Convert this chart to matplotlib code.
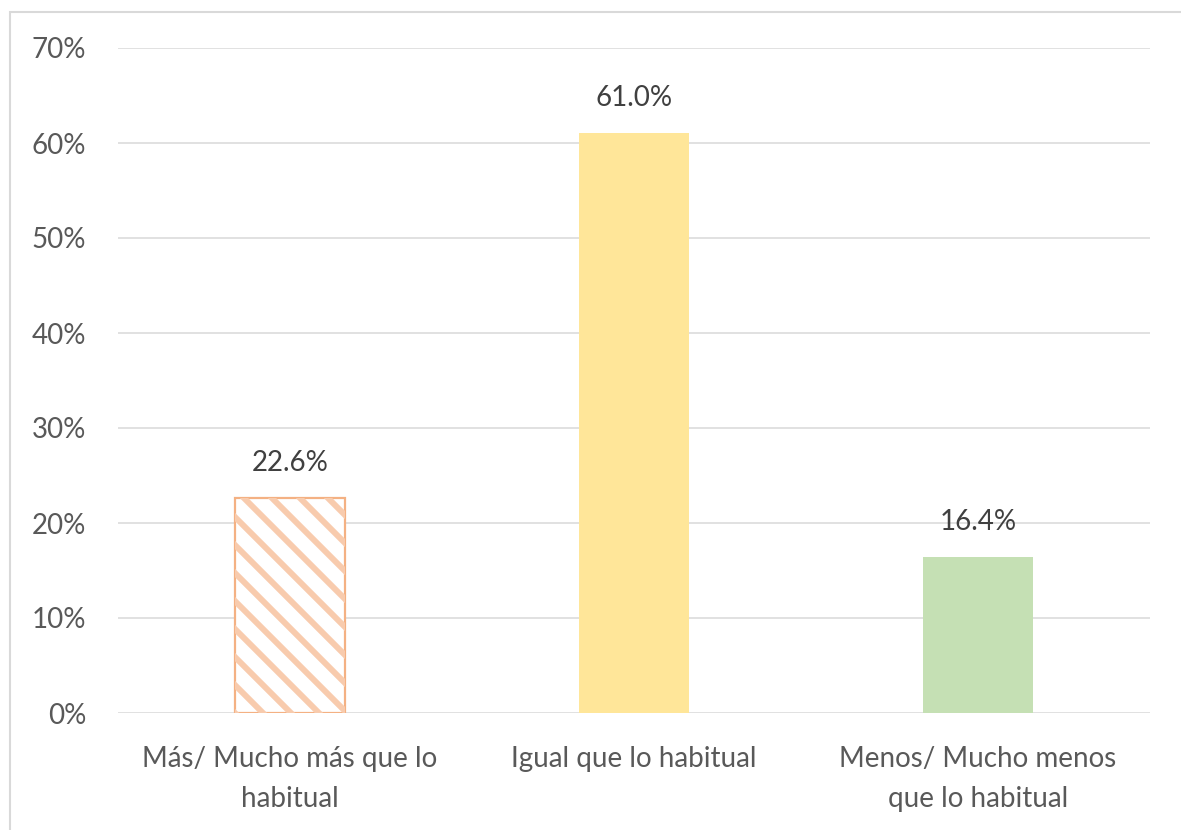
import matplotlib

matplotlib.use("Agg")
import matplotlib.pyplot as plt
from matplotlib.patches import Rectangle
from matplotlib.ticker import PercentFormatter, MultipleLocator
from matplotlib.transforms import IdentityTransform

categories = ["Más/ Mucho más que lo\nhabitual", "Igual que lo habitual",
              "Menos/ Mucho menos\nque lo habitual"]
values = [22.6, 61.0, 16.4]
value_labels = ["22.6%", "61.0%", "16.4%"]
bar_colors = ["white", "#FFE699", "#C5E0B4"]

plt.rcParams["font.family"] = ["Lato", "DejaVu Sans"]

fig = plt.figure(figsize=(11.81, 8.30), dpi=100)
ax = fig.add_axes([118 / 1181, 1 - 713 / 830, (1150 - 118) / 1181, (713 - 48) / 830])

x = range(len(categories))
bars = ax.bar(x, values, width=0.32, color=bar_colors, zorder=2)
bars[0].set_edgecolor("#F4B183")
bars[0].set_linewidth(1.6)

ax.set_xlim(-0.5, 2.5)
ax.set_ylim(0, 70)
ax.yaxis.set_major_locator(MultipleLocator(10))
ax.yaxis.set_major_formatter(PercentFormatter(decimals=0))
ax.grid(True, axis="y", color="#D9D9D9", linewidth=1.1, zorder=0)
for s in ax.spines.values():
    s.set_visible(False)
ax.tick_params(length=0, labelsize=20, colors="#595959")
ax.tick_params(axis="y", pad=23)
ax.tick_params(axis="x", pad=24)
ax.set_xticks(list(x))
ax.set_xticklabels(categories, linespacing=1.65)

for b, lab in zip(bars, value_labels):
    ax.annotate(lab, (b.get_x() + b.get_width() / 2, b.get_height()),
                xytext=(0, 16), textcoords="offset points",
                ha="center", va="bottom", fontsize=20, color="#404040")

# diagonal stripes on the first bar, clipped to it
b = bars[0]
(x0, y0), (x1, y1) = ax.transData.transform(
    [(b.get_x(), 0), (b.get_x() + b.get_width(), b.get_height())])
h = y1 - y0
c = x0 - h
while c < x1 + h:
    ln = plt.Line2D([c, c + h + 40], [y1, y0 - 40], transform=IdentityTransform(),
                    color="#F8CBAD", linewidth=4.3, zorder=1.9)
    ln.set_clip_path(b)
    fig.add_artist(ln)
    c += 28

fig.add_artist(Rectangle((10 / 1181, -0.05), 1.1, 1 - 12 / 830 + 0.05,
                         transform=fig.transFigure, fill=False,
                         edgecolor="#D9D9D9", linewidth=1.5))

fig.savefig("out.png", dpi=100)
